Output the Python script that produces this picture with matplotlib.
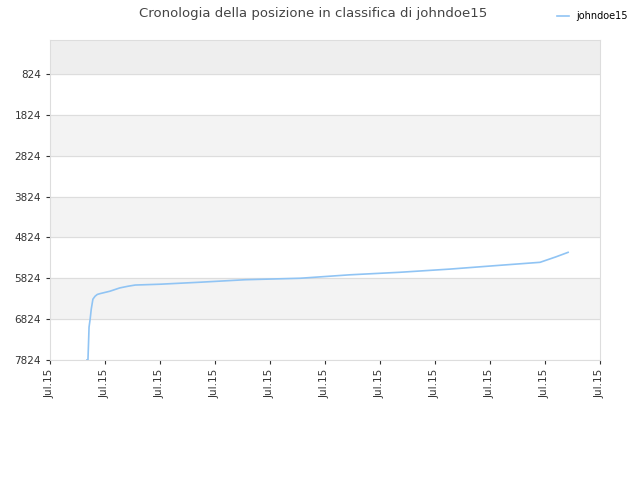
import matplotlib.pyplot as plt

# position readings (x in tick units 0..10, y = rank)
x_vals = [0.67, 0.69, 0.70, 0.71, 0.73, 0.75, 0.78, 0.82, 0.86, 0.91, 1.09, 1.27, 1.42, 1.55, 2.0,
          2.73, 3.55, 4.55, 5.45, 6.36, 7.27, 8.18, 8.91, 9.2, 9.42]
y_vals = [7824, 7824, 7434, 7019, 6824, 6580, 6336, 6263, 6220, 6200, 6141, 6060, 6019, 5990, 5970,
          5921, 5860, 5824, 5740, 5678, 5600, 5507, 5434, 5300, 5190]
tick_pos = list(range(11))
tick_labels = ["Jul.15"] * 11
y_ticks = [824, 1824, 2824, 3824, 4824, 5824, 6824, 7824]

fig = plt.figure(figsize=(6.4, 4.8), dpi=100)
ax = fig.add_axes([50 / 640, 120 / 480, 550 / 640, 320 / 480])
ax.set_xlim(0, 10)
ax.set_ylim(7824, -5)

# alternating bands
ax.axhspan(-5, 824, color="#eeeeee", zorder=0)
for i, lo in enumerate(y_ticks[:-1]):
    if i % 2 == 1:
        ax.axhspan(lo, lo + 1000, color="#f3f3f3", zorder=0)
for t in y_ticks:
    ax.axhline(t, color="#dddddd", lw=0.8, zorder=1)

ax.plot(x_vals, y_vals, color="#90c4f4", lw=1.2, zorder=2, label="johndoe15")

ax.set_yticks(y_ticks)
ax.set_xticks(tick_pos)
ax.set_xticklabels(tick_labels, rotation=90)
ax.tick_params(labelsize=7.5, colors="#333333", length=3)
for s in ax.spines.values():
    s.set_color("#dddddd")

fig.suptitle("Cronologia della posizione in classifica di johndoe15", x=0.49, y=0.985,
             fontsize=9.5, color="#444444")
fig.legend(loc="upper right", bbox_to_anchor=(0.995, 0.995), frameon=False, fontsize=7,
           handlelength=1.2)
fig.savefig("out.png")
